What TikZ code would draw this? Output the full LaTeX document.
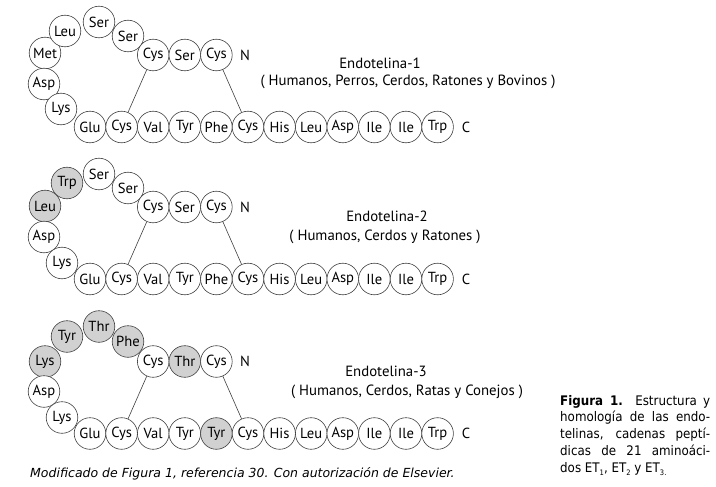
\documentclass[tikz,border=0pt]{standalone}
\usepackage{fontspec}
\setmainfont{PT Sans}
\newfontfamily\capfont{DejaVu Sans}
\newfontfamily\capfontn[FakeStretch=0.9]{DejaVu Sans}
\newcommand\lowsub[1]{\raisebox{-3pt}{\fontsize{7.5}{7.5}\selectfont #1}}
\newcommand\etpanel[5]{%
  \begin{scope}[yshift=-#2pt]
    \foreach \lab/\st [count=\k] in {#5}
      {\node[style=\st] (#1b\k) at ({90+31.6*(\k-1)},127) {\lab};}
    \foreach \lab/\st/\px/\py [count=\k] in {#3}
      {\node[style=\st] (#1l\k) at (\px,\py) {\lab};}
    \foreach \lab/\st [count=\k] in {#4}
      {\node[style=\st] (#1t\k) at ({153.2+31.6*(\k-1)},55) {\lab};}
    \node[lbl] (#1N) at (245,55) {N};
    \node[lbl] (#1C) at (466,127) {C};
    \draw[bond] (#1t1) -- (#1b2);
    \draw[bond] (#1t3) -- (#1b6);
  \end{scope}}
\begin{document}
\begin{tikzpicture}[x=1pt,y=-1pt,
  aa/.style={circle, draw=black!75, line width=0.6pt, fill=white,
    minimum size=31.6pt, inner sep=0pt, font=\fontsize{14.6}{14.6}\selectfont},
  aag/.style={aa, fill=black!18},
  lbl/.style={inner sep=0pt, font=\fontsize{14.6}{14.6}\selectfont},
  ttl/.style={inner sep=0pt, font=\fontsize{14.8}{14.8}\selectfont},
  bond/.style={draw=black!75, line width=0.6pt}]
\useasboundingbox (0,0) rectangle (716,487);
\fill[white] (0,0) rectangle (716,487);

% Endotelina-1
\etpanel{p1}{0}
  {Met/aa/45/53, Leu/aa/65/31, Ser/aa/99/22, Ser/aa/128/36, Asp/aa/44/84, Lys/aa/61/109}
  {Cys/aa, Ser/aa, Cys/aa}
  {Glu/aa, Cys/aa, Val/aa, Tyr/aa, Phe/aa, Cys/aa, His/aa, Leu/aa, Asp/aa, Ile/aa, Ile/aa, Trp/aa}
\node[ttl] (t1) at (380,63) {Endotelina-1};
\node[ttl] (s1) at (408,82) {( Humanos, Perros, Cerdos, Ratones y Bovinos )};

% Endotelina-2
\etpanel{p2}{152}
  {Leu/aag/45/54, Trp/aag/67/31, Ser/aa/99/22, Ser/aa/128/36, Asp/aa/44/85, Lys/aa/62/111}
  {Cys/aa, Ser/aa, Cys/aa}
  {Glu/aa, Cys/aa, Val/aa, Tyr/aa, Phe/aa, Cys/aa, His/aa, Leu/aa, Asp/aa, Ile/aa, Ile/aa, Trp/aa}
\node[ttl] (t2) at (387,216) {Endotelina-2};
\node[ttl] (s2) at (385,237) {( Humanos, Cerdos y Ratones )};

% Endotelina-3
\etpanel{p3}{306.5}
  {Lys/aag/45/55, Tyr/aag/67/30, Thr/aag/99/20, Phe/aag/128/35, Asp/aa/44/85, Lys/aa/62/111}
  {Cys/aa, Thr/aag, Cys/aa}
  {Glu/aa, Cys/aa, Val/aa, Tyr/aa, Tyr/aag, Cys/aa, His/aa, Leu/aa, Asp/aa, Ile/aa, Ile/aa, Trp/aa}
\node[ttl] (t3) at (386,371) {Endotelina-3};
\node[ttl] (s3) at (407,392) {( Humanos, Cerdos, Ratas y Conejos )};

% captions
\node[anchor=base west, inner sep=0pt, font=\capfont\fontsize{12.5}{12.5}\selectfont\itshape]
  (src) at (30,477) {Modificado de Figura 1, referencia 30. Con autorización de Elsevier.};
\node[anchor=north west, inner sep=0pt, text width=150pt, align=justify,
  font=\capfontn\fontsize{13.2}{16.7}\selectfont] (fig) at (560,395)
  {\textbf{Figura 1.} Estructura y\linebreak
   homología de las endo-\linebreak
   telinas, cadenas peptí-\linebreak
   dicas de 21 aminoáci-\linebreak
   dos ET\lowsub{1}, ET\lowsub{2} y ET\lowsub{3.}};
\end{tikzpicture}
\end{document}
